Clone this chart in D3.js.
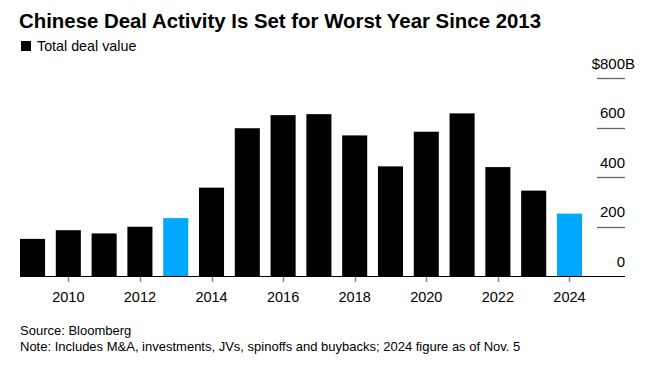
<!DOCTYPE html>
<html>
<head>
<meta charset="utf-8">
<script src="https://cdn.jsdelivr.net/npm/d3@7"></script>
<style>
  html, body { margin: 0; padding: 0; background: #fff; }
  svg { display: block; font-family: "Liberation Sans", Arial, sans-serif; }
</style>
</head>
<body>
<svg id="chart" width="672" height="366"></svg>
<script>
const years = [2009, 2010, 2011, 2012, 2013, 2014, 2015, 2016, 2017, 2018, 2019, 2020, 2021, 2022, 2023, 2024];
const dealValues = [150, 185, 172, 199, 234, 357, 597, 650, 654, 568, 443, 583, 657, 440, 345, 252];
const highlightYears = [2013, 2024];
const yTicks = [0, 200, 400, 600, 800];
const xTickYears = [2010, 2012, 2014, 2016, 2018, 2020, 2022, 2024];

const svg = d3.select("#chart");

const x = d3.scaleBand().domain(years).range([20, 582]).paddingInner(0.3).paddingOuter(0);
const y = d3.scaleLinear().domain([0, 800]).range([276, 78]);

// Title
svg.append("text")
  .attr("x", 19).attr("y", 28)
  .attr("font-size", 20).attr("font-weight", "bold").attr("fill", "#000")
  .attr("textLength", 522).attr("lengthAdjust", "spacingAndGlyphs")
  .text("Chinese Deal Activity Is Set for Worst Year Since 2013");

// Legend
svg.append("rect").attr("x", 21).attr("y", 41).attr("width", 10).attr("height", 10).attr("fill", "#000");
svg.append("text").attr("x", 37).attr("y", 51).attr("font-size", 14.3).attr("fill", "#000")
  .text("Total deal value");

// Gridline stubs + y labels
const yg = svg.append("g");
yg.selectAll("line.grid").data(yTicks.filter(d => d > 0)).join("line")
  .attr("class", "grid")
  .attr("x1", 597).attr("x2", 625)
  .attr("y1", d => Math.round(y(d)) + 0.5).attr("y2", d => Math.round(y(d)) + 0.5)
  .attr("stroke", "#666").attr("stroke-width", 1.3);

// measure suffix width so the numeric part stays right-aligned with the others
const probe = svg.append("text").attr("font-size", 15).text("B");
const suffixW = probe.node().getComputedTextLength();
probe.remove();

yg.selectAll("text").data(yTicks).join("text")
  .attr("x", d => d === 800 ? 625 + suffixW : 625)
  .attr("y", d => y(d) - 9.5)
  .attr("text-anchor", "end").attr("font-size", 15).attr("fill", "#000")
  .text(d => d === 800 ? "$800B" : d);

// Bars
svg.append("g").selectAll("rect").data(years).join("rect")
  .attr("x", d => x(d))
  .attr("width", x.bandwidth())
  .attr("y", (d, i) => y(dealValues[i]))
  .attr("height", (d, i) => y(0) - y(dealValues[i]))
  .attr("fill", d => highlightYears.includes(d) ? "#00a9ff" : "#000");

// Baseline
svg.append("line").attr("x1", 20).attr("x2", 625)
  .attr("y1", y(0) + 0.5).attr("y2", y(0) + 0.5)
  .attr("stroke", "#000").attr("stroke-width", 1);

// X axis ticks and labels
const xg = svg.append("g");
xg.selectAll("line").data(xTickYears).join("line")
  .attr("x1", d => Math.round(x(d) + x.bandwidth() / 2) + 0.5)
  .attr("x2", d => Math.round(x(d) + x.bandwidth() / 2) + 0.5)
  .attr("y1", y(0) + 1).attr("y2", y(0) + 6)
  .attr("stroke", "#888").attr("stroke-width", 1.5);
xg.selectAll("text").data(xTickYears).join("text")
  .attr("x", d => x(d) + x.bandwidth() / 2)
  .attr("y", 302)
  .attr("text-anchor", "middle").attr("font-size", 14.5).attr("fill", "#000")
  .text(d => d);

// Footer
svg.append("text").attr("x", 20).attr("y", 335).attr("font-size", 13).attr("fill", "#000")
  .text("Source: Bloomberg");
svg.append("text").attr("x", 20).attr("y", 351).attr("font-size", 13).attr("fill", "#000")
  .text("Note: Includes M&A, investments, JVs, spinoffs and buybacks; 2024 figure as of Nov. 5");
</script>
</body>
</html>
